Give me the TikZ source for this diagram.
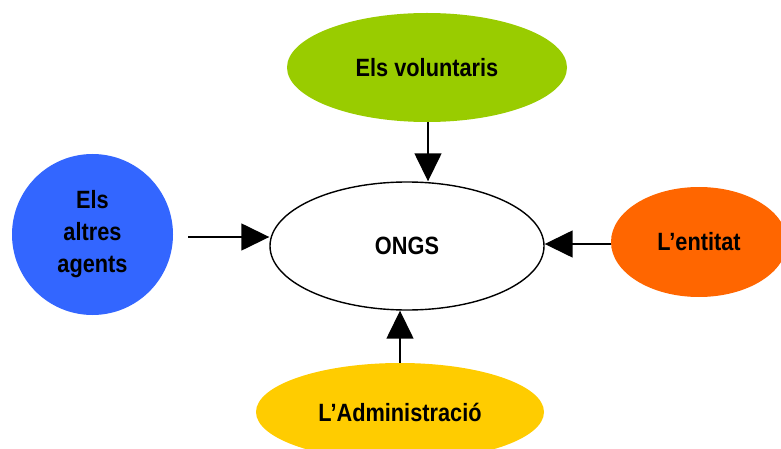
\documentclass[tikz,border=0pt]{standalone}
\usepackage{fontspec}
\setmainfont{Liberation Sans}[FakeStretch=0.87]
\usetikzlibrary{shapes.geometric, arrows.meta}

\definecolor{verd}{HTML}{99CC00}
\definecolor{blau}{HTML}{3366FF}
\definecolor{taronja}{HTML}{FF6600}
\definecolor{groc}{HTML}{FFCC00}

\tikzset{
  bombolla/.style={ellipse, inner sep=0pt, align=center,
    font=\fontsize{25}{32}\selectfont\bfseries},
  fletxa/.style={-{Triangle[length=28pt, width=27pt]}, line width=1.5pt}
}

\begin{document}
\begin{tikzpicture}[x=1pt, y=-1pt]
\useasboundingbox (0,0) rectangle (781,449);

% el centre
\node[bombolla, draw, line width=1.4pt, fill=white,
  minimum width=274pt, minimum height=128pt] (ongs) at (407,246) {ONGS};

% els quatre agents
\node[bombolla, fill=verd, minimum width=280pt, minimum height=109pt]
  (volunt) at (427,67.5) {Els voluntaris};
\node[bombolla, circle, fill=blau, minimum size=161pt]
  (altres) at (92.5,234.5) {Els\\altres\\agents};
\node[bombolla, fill=taronja, minimum width=176pt, minimum height=110pt]
  (entitat) at (699,242) {L’entitat};
\node[bombolla, fill=groc, minimum width=288pt, minimum height=98pt]
  (admin) at (400,412) {L’Administració};

% fletxes cap a ONGS
\draw[fletxa] (volunt.south -| 428,0) -- (ongs.north -| 428,0);
\draw[fletxa, shorten <=15pt] (altres.east |- 0,237) -- (ongs.west |- 0,237);
\draw[fletxa] (entitat.west |- 0,244) -- (ongs.east |- 0,244);
\draw[fletxa] (admin.north -| 400,0) -- (ongs.south -| 400,0);

\end{tikzpicture}
\end{document}
